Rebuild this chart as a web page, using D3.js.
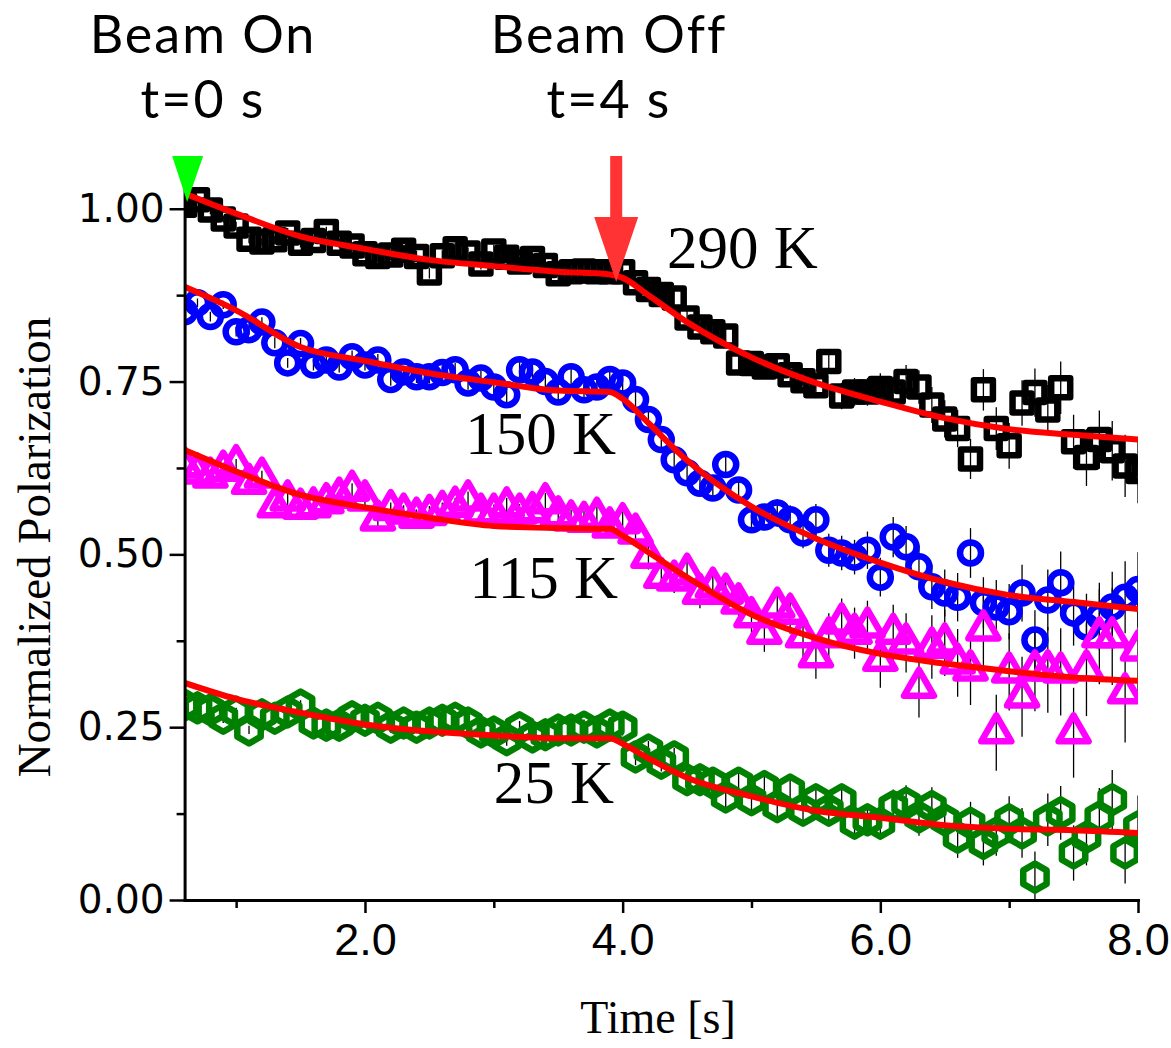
<!DOCTYPE html>
<html>
<head>
<meta charset="utf-8">
<script src="https://cdn.jsdelivr.net/npm/d3@7"></script>
<style>
  html, body { margin: 0; padding: 0; background: #fff; }
  svg { display: block; }
</style>
</head>
<body>
<svg id="chart" width="1171" height="1048"></svg>
<script>
// ---- data -------------------------------------------------------------
// sample times (s), one point every 0.1 s from 0.6 to 8.0
const times = d3.range(6, 81).map(i => i / 10);

const seriesNames = ["290 K", "150 K", "115 K", "25 K"];

const pol290 = [1.005, 1.013, 0.998, 0.985, 0.975, 0.956, 0.952, 0.955, 0.965, 0.950,
  0.954, 0.967, 0.950, 0.946, 0.935, 0.931, 0.933, 0.940, 0.931, 0.907,
  0.932, 0.942, 0.936, 0.920, 0.939, 0.930, 0.923, 0.928, 0.918, 0.906,
  0.909, 0.910, 0.909, 0.909, 0.909, 0.893, 0.883, 0.876, 0.871, 0.842,
  0.829, 0.822, 0.816, 0.777, 0.776, 0.771, 0.773, 0.760, 0.751, 0.744,
  0.779, 0.729, 0.735, 0.735, 0.740, 0.735, 0.750, 0.742, 0.716, 0.696,
  0.682, 0.638, 0.738, 0.682, 0.657, 0.719, 0.734, 0.709, 0.741, 0.663,
  0.640, 0.666, 0.650, 0.628, 0.620];
const pol150 = [0.851, 0.864, 0.844, 0.861, 0.822, 0.825, 0.836, 0.806, 0.777, 0.805,
  0.774, 0.781, 0.771, 0.786, 0.774, 0.781, 0.753, 0.764, 0.757, 0.757,
  0.763, 0.767, 0.748, 0.755, 0.742, 0.731, 0.767, 0.764, 0.750, 0.735,
  0.757, 0.738, 0.742, 0.753, 0.748, 0.724, 0.695, 0.666, 0.637, 0.618,
  0.603, 0.596, 0.630, 0.593, 0.550, 0.554, 0.560, 0.550, 0.531, 0.550,
  0.506, 0.502, 0.496, 0.506, 0.467, 0.525, 0.511, 0.482, 0.453, 0.444,
  0.438, 0.502, 0.430, 0.424, 0.417, 0.444, 0.376, 0.434, 0.459, 0.415,
  0.395, 0.410, 0.424, 0.438, 0.449];
const pol115 = [0.627, 0.618, 0.612, 0.622, 0.630, 0.603, 0.612, 0.569, 0.579, 0.567,
  0.569, 0.575, 0.583, 0.593, 0.579, 0.550, 0.565, 0.560, 0.554, 0.558,
  0.564, 0.570, 0.579, 0.560, 0.560, 0.569, 0.560, 0.562, 0.575, 0.556,
  0.550, 0.548, 0.554, 0.540, 0.546, 0.531, 0.496, 0.467, 0.463, 0.473,
  0.444, 0.453, 0.444, 0.430, 0.410, 0.386, 0.424, 0.415, 0.381, 0.352,
  0.381, 0.401, 0.386, 0.395, 0.347, 0.386, 0.372, 0.308, 0.366, 0.372,
  0.343, 0.333, 0.391, 0.242, 0.330, 0.294, 0.333, 0.333, 0.330, 0.242,
  0.333, 0.381, 0.381, 0.300, 0.362];
const pol25 = [0.282, 0.278, 0.275, 0.263, 0.272, 0.246, 0.268, 0.263, 0.272, 0.282,
  0.256, 0.253, 0.253, 0.265, 0.260, 0.263, 0.250, 0.256, 0.250, 0.256,
  0.260, 0.263, 0.256, 0.243, 0.243, 0.232, 0.249, 0.236, 0.239, 0.246,
  0.246, 0.250, 0.243, 0.253, 0.250, 0.207, 0.217, 0.198, 0.207, 0.174,
  0.174, 0.169, 0.149, 0.169, 0.145, 0.164, 0.135, 0.159, 0.130, 0.145,
  0.130, 0.145, 0.111, 0.116, 0.111, 0.135, 0.140, 0.120, 0.135, 0.116,
  0.091, 0.111, 0.082, 0.097, 0.116, 0.097, 0.033, 0.116, 0.126, 0.068,
  0.091, 0.120, 0.145, 0.068, 0.106];

// half-widths of the error bars, in thousandths
const err290 = [5, 5, 6, 5, 6, 6, 5, 6, 7, 6, 6, 7, 7, 6, 7, 8, 7, 7, 8, 8,
  8, 9, 8, 8, 9, 9, 8, 9, 10, 9, 9, 10, 10, 11, 10, 10, 11, 12, 12, 12,
  13, 13, 14, 14, 15, 15, 16, 16, 17, 18, 18, 19, 20, 20, 22, 22, 24, 24, 26, 27,
  27, 29, 30, 31, 33, 33, 35, 36, 38, 39, 41, 42, 43, 45, 46];
const err150 = [6, 6, 7, 6, 7, 7, 7, 8, 7, 8, 8, 8, 8, 9, 8, 9, 9, 9, 9, 10,
  10, 10, 10, 11, 10, 11, 11, 11, 12, 12, 12, 12, 13, 13, 13, 14, 14, 15, 15, 16,
  16, 17, 17, 18, 19, 19, 20, 21, 22, 23, 24, 25, 25, 27, 28, 29, 30, 31, 32, 34,
  35, 36, 37, 39, 40, 41, 43, 44, 45, 47, 48, 49, 51, 52, 54];
const err115 = [7, 7, 8, 7, 8, 8, 9, 8, 9, 9, 9, 10, 9, 10, 10, 11, 10, 11, 11, 12,
  11, 12, 12, 13, 12, 13, 13, 14, 14, 14, 15, 15, 15, 16, 16, 17, 18, 18, 19, 21,
  22, 22, 24, 25, 26, 27, 28, 30, 31, 32, 34, 35, 37, 38, 40, 41, 43, 44, 46, 48,
  49, 51, 53, 55, 56, 58, 60, 62, 63, 65, 67, 69, 70, 72, 75];
const err25 = [6, 6, 6, 7, 6, 6, 7, 7, 7, 7, 7, 8, 7, 8, 8, 8, 8, 8, 9, 8,
  9, 9, 9, 9, 10, 9, 10, 10, 10, 11, 10, 11, 11, 11, 12, 12, 13, 12, 13, 14,
  14, 15, 15, 16, 16, 17, 18, 18, 19, 20, 21, 21, 22, 23, 24, 25, 26, 27, 28, 29,
  30, 31, 32, 33, 34, 36, 37, 38, 39, 40, 41, 42, 43, 44, 45];

// fitted curves, sampled at these knot times
const fitTimes = [0.6, 1.0, 1.5, 2.0, 2.5, 3.0, 3.5, 3.9, 4.0, 4.2, 4.5, 5.0, 5.5, 6.0, 6.5, 7.0, 7.5, 8.0];
const fit290 = [1.022, 0.993, 0.960, 0.942, 0.926, 0.917, 0.909, 0.905, 0.900, 0.875, 0.836, 0.785, 0.748, 0.721, 0.697, 0.681, 0.673, 0.666];
const fit150 = [0.887, 0.853, 0.800, 0.780, 0.762, 0.749, 0.737, 0.735, 0.725, 0.690, 0.636, 0.569, 0.523, 0.488, 0.460, 0.441, 0.431, 0.421];
const fit115 = [0.651, 0.620, 0.586, 0.568, 0.553, 0.541, 0.538, 0.537, 0.527, 0.503, 0.467, 0.413, 0.379, 0.356, 0.342, 0.331, 0.322, 0.317];
const fit25  = [0.314, 0.291, 0.271, 0.254, 0.244, 0.238, 0.234, 0.234, 0.226, 0.205, 0.177, 0.150, 0.129, 0.119, 0.108, 0.103, 0.101, 0.097];

// axis ticks
const xTickValues = [2, 4, 6, 8];
const xMinorTicks = [1, 3, 5, 7];
const yTickValues = [0, 0.25, 0.5, 0.75, 1.0];
const yMinorTicks = [0.125, 0.375, 0.625, 0.875];

// beam events
const beamOnTime = 0.62;
const beamOffTime = 3.95;

// ---- drawing ----------------------------------------------------------
const svg = d3.select("#chart");
const x = d3.scaleLinear().domain([0.6, 8.0]).range([184.6, 1138]);
const y = d3.scaleLinear().domain([0, 1.03]).range([900, 188]);

const series = [
  { name: seriesNames[0], values: pol290, errs: err290, fit: fit290, color: "#000000", shape: "square" },
  { name: seriesNames[1], values: pol150, errs: err150, fit: fit150, color: "#0000ff", shape: "circle" },
  { name: seriesNames[2], values: pol115, errs: err115, fit: fit115, color: "#ff00ff", shape: "triangle" },
  { name: seriesNames[3], values: pol25,  errs: err25,  fit: fit25,  color: "#008000", shape: "hexagon" }
];

svg.append("defs").append("clipPath").attr("id", "plot-clip")
  .append("rect")
  .attr("x", x.range()[0]).attr("y", 0)
  .attr("width", x.range()[1] - x.range()[0]).attr("height", y.range()[0]);

function markerPath(shape) {
  if (shape === "square") {
    const h = 9.5;
    return `M${-h},${-h}H${h}V${h}H${-h}Z`;
  }
  if (shape === "triangle") {
    const s = 30, ht = s * Math.sqrt(3) / 2;
    return `M0,${-2 * ht / 3}L${s / 2},${ht / 3}L${-s / 2},${ht / 3}Z`;
  }
  if (shape === "hexagon") {
    const r = 13.5;
    const pts = d3.range(6).map(i => {
      const a = Math.PI / 3 * i - Math.PI / 2;
      return [r * Math.cos(a), r * Math.sin(a)];
    });
    return "M" + pts.map(p => p.join(",")).join("L") + "Z";
  }
  return null;
}

const plot = svg.append("g").attr("clip-path", "url(#plot-clip)");

// error bars
series.forEach(s => {
  plot.append("g").selectAll("line")
    .data(times.map((t, i) => ({ t, v: s.values[i], e: s.errs[i] / 1000 })))
    .join("line")
    .attr("x1", d => x(d.t)).attr("x2", d => x(d.t))
    .attr("y1", d => y(d.v - d.e)).attr("y2", d => y(d.v + d.e))
    .attr("stroke", "#000").attr("stroke-width", 1.3);
});

// markers
series.forEach(s => {
  const pts = times.map((t, i) => ({ t, v: s.values[i] }));
  const g = plot.append("g")
    .attr("fill", "none").attr("stroke", s.color)
    .attr("stroke-width", 6.5).attr("stroke-linejoin", "round");
  if (s.shape === "circle") {
    g.selectAll("circle").data(pts).join("circle")
      .attr("cx", d => x(d.t)).attr("cy", d => y(d.v)).attr("r", 10.5);
  } else {
    const p = markerPath(s.shape);
    g.selectAll("path").data(pts).join("path")
      .attr("d", p)
      .attr("transform", d => `translate(${x(d.t)},${y(d.v)})`);
  }
});

// fitted curves
const fitLine = d3.line().x(d => x(d.t)).y(d => y(d.v)).curve(d3.curveMonotoneX);
series.forEach(s => {
  plot.append("path")
    .datum(fitTimes.map((t, i) => ({ t, v: s.fit[i] })))
    .attr("d", fitLine)
    .attr("fill", "none").attr("stroke", "#ff0000").attr("stroke-width", 6)
    .attr("stroke-linejoin", "round");
});

// axes
const xAxis = svg.append("g").attr("transform", `translate(0,${y(0)})`)
  .call(d3.axisBottom(x).tickValues(xTickValues).tickFormat(d3.format(".1f"))
    .tickSize(13).tickSizeOuter(0).tickPadding(10));
svg.append("g").attr("transform", `translate(0,${y(0)})`)
  .call(d3.axisBottom(x).tickValues(xMinorTicks).tickFormat("").tickSize(8).tickSizeOuter(0))
  .call(g => g.select(".domain").remove());

const yAxis = svg.append("g").attr("transform", `translate(${x(0.6)},0)`)
  .call(d3.axisLeft(y).tickValues(yTickValues).tickFormat(d3.format(".2f"))
    .tickSize(15).tickSizeOuter(0).tickPadding(5));
svg.append("g").attr("transform", `translate(${x(0.6)},0)`)
  .call(d3.axisLeft(y).tickValues(yMinorTicks).tickFormat("").tickSize(8).tickSizeOuter(0))
  .call(g => g.select(".domain").remove());

svg.selectAll(".domain").attr("stroke", "#000").attr("stroke-width", 3).attr("stroke-linecap", "square");
svg.selectAll(".tick line").attr("stroke", "#000").attr("stroke-width", 2.5);
xAxis.selectAll("text").attr("font-family", "'Liberation Sans', Arial, sans-serif")
  .attr("font-size", 45).attr("fill", "#000");
yAxis.selectAll("text").attr("font-family", "'DejaVu Sans', Verdana, sans-serif")
  .attr("font-size", 39).attr("fill", "#000");

// axis titles
svg.append("text")
  .attr("x", 658).attr("y", 1033).attr("text-anchor", "middle")
  .attr("font-family", "'Liberation Serif', 'Times New Roman', serif").attr("font-size", 46)
  .text("Time [s]");
svg.append("text")
  .attr("transform", "translate(50,547) rotate(-90)").attr("text-anchor", "middle")
  .attr("font-family", "'Liberation Serif', 'Times New Roman', serif").attr("font-size", 47)
  .text("Normalized Polarization");

// series labels
const serif = "'Liberation Serif', 'Times New Roman', serif";
const labelSpec = [
  { text: seriesNames[0], x: 667, y: 268, anchor: "start" },
  { text: seriesNames[1], x: 616, y: 454, anchor: "end" },
  { text: seriesNames[2], x: 618, y: 598, anchor: "end" },
  { text: seriesNames[3], x: 614, y: 803, anchor: "end" }
];
svg.append("g").selectAll("text").data(labelSpec).join("text")
  .attr("x", d => d.x).attr("y", d => d.y).attr("text-anchor", d => d.anchor)
  .attr("font-family", serif).attr("font-size", 61).attr("fill", "#000")
  .text(d => d.text);

// beam annotations
const sans = "Lato, 'Open Sans', sans-serif";
const notes = [
  { lines: ["Beam On", "t=0 s"], cx: 203 },
  { lines: ["Beam Off", "t=4 s"], cx: 609 }
];
notes.forEach(n => {
  n.lines.forEach((l, i) => {
    svg.append("text")
      .attr("x", n.cx).attr("y", 53 + i * 65).attr("text-anchor", "middle")
      .attr("font-family", sans).attr("font-size", 52).attr("letter-spacing", 2)
      .attr("fill", "#000")
      .text(l);
  });
});

// beam-on marker: green downward triangle at the start of the axis
const onX = x(beamOnTime);
svg.append("path")
  .attr("d", `M${onX - 15},156L${onX + 16},156L${onX},202Z`)
  .attr("fill", "#00ff00");

// beam-off marker: red arrow pointing at the 290 K curve
const offX = x(beamOffTime);
svg.append("path")
  .attr("d", `M${offX - 6},156L${offX + 6},156L${offX + 6},217L${offX + 22},217L${offX},282L${offX - 22},217L${offX - 6},217Z`)
  .attr("fill", "#ff3333");
</script>
</body>
</html>
